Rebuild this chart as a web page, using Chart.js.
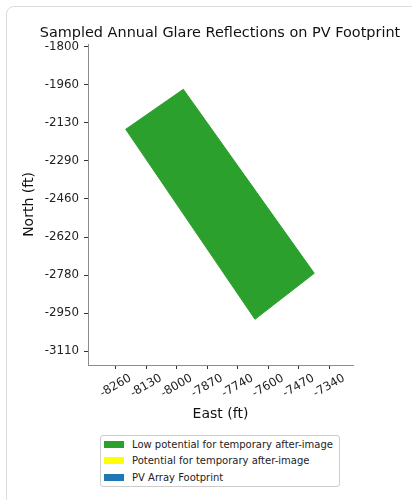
<!DOCTYPE html>
<html>
<head>
<meta charset="utf-8">
<script src="https://cdn.jsdelivr.net/npm/chart.js@4.4.1/dist/chart.umd.min.js"></script>
<style>
  body { margin: 0; background: #fff; overflow: hidden; width: 412px; height: 500px; }
  #card { position: absolute; left: 6px; top: 6px; width: 520px; height: 600px; border: 1px solid #dcdcdc; border-radius: 8px; }
  #plot { position: absolute; left: 0; top: 0; }
  #legend { position: absolute; left: 100px; top: 435px; width: 240px; height: 52px; box-sizing: border-box;
    border: 1px solid #cccccc; border-radius: 3px; background: #fff; font: 10px "DejaVu Sans"; color: #222; }
  .row { height: 16.5px; display: flex; align-items: center; white-space: nowrap; }
  .patch { width: 20px; height: 7px; margin-left: 3px; margin-right: 8px; }
</style>
</head>
<body>
<div id="card"></div>
<canvas id="plot" width="412" height="500"></canvas>
<div id="legend"></div>
<script>
// tick positions (evenly spaced) and the labels printed on them
var eastTicks = [-8260, -8128.57, -7997.14, -7865.71, -7734.29, -7602.86, -7471.43, -7340];
var eastTickLabels = ['-8260', '-8130', '-8000', '-7870', '-7740', '-7600', '-7470', '-7340'];
var northTicks = [-1800, -1963.75, -2127.5, -2291.25, -2455, -2618.75, -2782.5, -2946.25, -3110];
var northTickLabels = ['-1800', '-1960', '-2130', '-2290', '-2460', '-2620', '-2780', '-2950', '-3110'];

// glare reflection area corners (east, north in ft)
var glareEast = [-7968.6, -8216.9, -7659.6, -7404.1];
var glareNorth = [-1982.3, -2154.6, -2973.3, -2775.1];

var seriesLabels = ['Low potential for temporary after-image', 'Potential for temporary after-image', 'PV Array Footprint'];
var seriesColors = ['#2ca02c', '#ffff00', '#1f77b4'];

var font = '"DejaVu Sans"';

var glarePts = glareEast.map(function(e, i){ return {x: e, y: glareNorth[i]}; });
glarePts.push(glarePts[0]);

// x tick labels: rotated 30deg, centred under the tick like the original
var xLabels = {
	id: 'xLabels',
	afterDraw: function(chart){
		var ctx = chart.ctx, xs = chart.scales.x;
		ctx.save();
		ctx.font = '11.8px ' + font;
		ctx.fillStyle = '#222';
		ctx.textAlign = 'center';
		ctx.textBaseline = 'middle';
		xs.ticks.forEach(function(t, i){
			ctx.save();
			ctx.translate(xs.getPixelForValue(t.value), 386);
			ctx.rotate(-Math.PI / 6);
			ctx.fillText(eastTickLabels[i], 0, 0);
			ctx.restore();
		});
		ctx.restore();
	}
};

var chart = new Chart(document.getElementById('plot'), {
	type: 'line',
	data: {
		datasets: [
			{ label: seriesLabels[0], data: glarePts, borderColor: seriesColors[0], backgroundColor: seriesColors[0],
			  borderWidth: 1, pointRadius: 0, fill: 'shape', tension: 0 },
			{ label: seriesLabels[1], data: [], borderColor: seriesColors[1], backgroundColor: seriesColors[1], pointRadius: 0 },
			{ label: seriesLabels[2], data: [], borderColor: seriesColors[2], backgroundColor: seriesColors[2], pointRadius: 0 }
		]
	},
	options: {
		responsive: false,
		devicePixelRatio: 1,
		animation: false,
		events: [],
		// left padding shifts the full-width title so it centres over the axes
		layout: { padding: { left: 28, right: 0, top: 0, bottom: 0 } },
		plugins: {
			legend: { display: false },
			tooltip: { enabled: false },
			title: {
				display: true,
				text: 'Sampled Annual Glare Reflections on PV Footprint',
				color: '#111',
				font: { family: font, size: 14.45, weight: 'normal' },
				padding: { top: 24.95, bottom: 1.71 }
			}
		},
		scales: {
			x: {
				type: 'linear',
				min: -8379.4,
				max: -7237.2,
				afterBuildTicks: function(s){ s.ticks = eastTicks.map(function(v){ return {value: v}; }); },
				afterFit: function(s){ s.height = 135; s.paddingRight = 59; },
				ticks: { display: false },
				grid: { drawOnChartArea: false, drawTicks: true, tickLength: 4, color: '#333' },
				border: { display: true, color: '#8c8c8c', width: 1 },
				title: { display: true, text: 'East (ft)', color: '#111', font: { family: font, size: 14 }, padding: { bottom: 77.6 } }
			},
			y: {
				type: 'linear',
				min: -3170.3,
				max: -1787.1,
				afterBuildTicks: function(s){ s.ticks = northTicks.map(function(v){ return {value: v}; }); },
				afterFit: function(s){ s.width = 60; },
				ticks: {
					color: '#222',
					padding: 5,
					font: { family: font, size: 11.8 },
					callback: function(v, i){ return northTickLabels[i]; }
				},
				grid: { drawOnChartArea: false, drawTicks: true, tickLength: 4, color: '#333' },
				border: { display: true, color: '#8c8c8c', width: 1 },
				title: { display: true, text: 'North (ft)', color: '#111', font: { family: font, size: 14 }, padding: { top: -7.1 } }
			}
		}
	},
	plugins: [xLabels]
});

// legend box from the datasets
var legend = document.getElementById('legend');
chart.data.datasets.forEach(function(ds){
	var row = document.createElement('div');
	row.className = 'row';
	var patch = document.createElement('span');
	patch.className = 'patch';
	patch.style.background = ds.backgroundColor;
	var txt = document.createElement('span');
	txt.textContent = ds.label;
	row.appendChild(patch);
	row.appendChild(txt);
	legend.appendChild(row);
});
</script>
</body>
</html>
